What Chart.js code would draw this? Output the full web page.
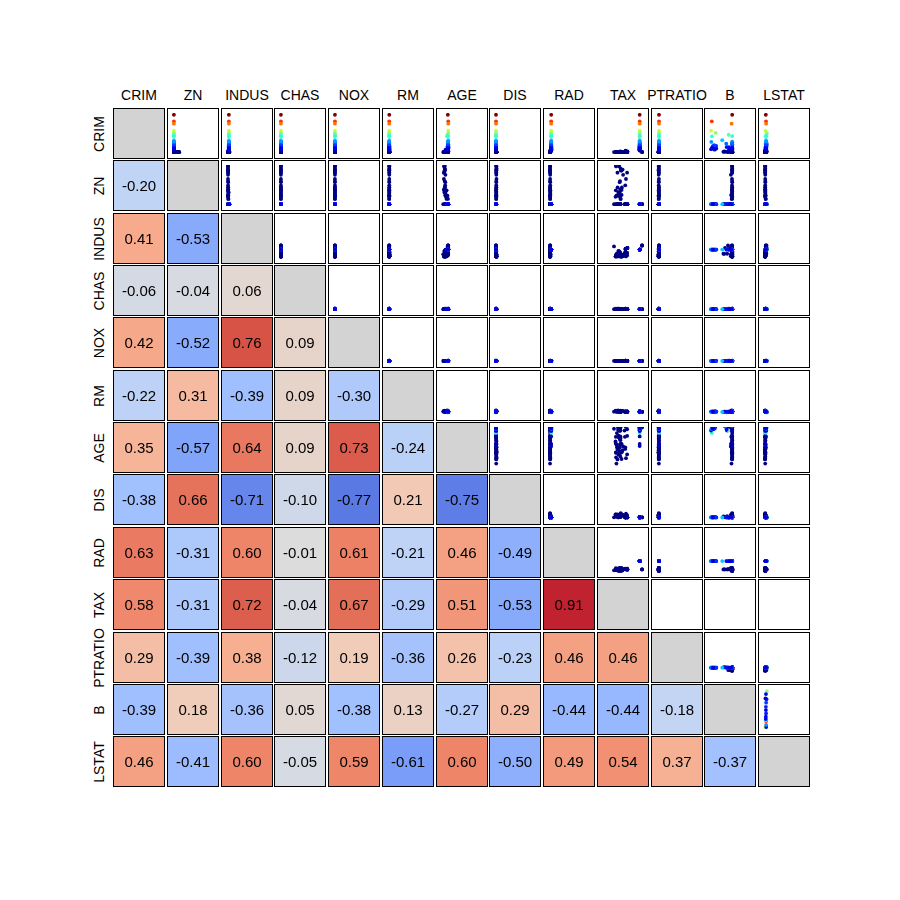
<!DOCTYPE html>
<html>
<head>
<meta charset="utf-8">
<script src="https://cdn.jsdelivr.net/npm/chart.js@4.4.0/dist/chart.umd.min.js"></script>
<style>
  body { margin: 0; background: #fff; font-family: Arial, "Liberation Sans", sans-serif; }
  #wrap { position: relative; width: 900px; height: 900px; }
  .cell { position: absolute; width: 52px; height: 51px; border: 1px solid #000; box-sizing: border-box; background: #fff; }
  .cell canvas { display: block; }
  .lab { position: absolute; font-size: 14px; color: #000; white-space: nowrap; transform: translate(-50%, -50%); }
  .rlab { transform: translate(-50%, -50%) rotate(-90deg); }
</style>
</head>
<body>
<div id="wrap"></div>
<script>
const names = ["CRIM", "ZN", "INDUS", "CHAS", "NOX", "RM", "AGE", "DIS", "RAD", "TAX", "PTRATIO", "B", "LSTAT"];

// lower triangle of the correlation matrix, row by row
const corrRows = [
  [],
  [-0.20],
  [0.41, -0.53],
  [-0.06, -0.04, 0.06],
  [0.42, -0.52, 0.76, 0.09],
  [-0.22, 0.31, -0.39, 0.09, -0.30],
  [0.35, -0.57, 0.64, 0.09, 0.73, -0.24],
  [-0.38, 0.66, -0.71, -0.10, -0.77, 0.21, -0.75],
  [0.63, -0.31, 0.60, -0.01, 0.61, -0.21, 0.46, -0.49],
  [0.58, -0.31, 0.72, -0.04, 0.67, -0.29, 0.51, -0.53, 0.91],
  [0.29, -0.39, 0.38, -0.12, 0.19, -0.36, 0.26, -0.23, 0.46, 0.46],
  [-0.39, 0.18, -0.36, 0.05, -0.38, 0.13, -0.27, 0.29, -0.44, -0.44, -0.18],
  [0.46, -0.41, 0.60, -0.05, 0.59, -0.61, 0.60, -0.50, 0.49, 0.54, 0.37, -0.37]
];

// sampled records shown in the upper-triangle scatters (suburbs / inner areas / RAD 24 district)
const crim = [0.01,0.06,0.10,0.02,0.04,0.03,0.01,0.02,0.05,0.01,0.02,0.04,0.08,0.03,0.04,0.01,0.15,0.09,0.12,0.03,0.08,0.05,0.07,0.03,0.02,0.10,0.04,0.05,0.02,0.06,0.03,0.07,
  0.03,0.03,0.63,1.23,0.85,1.61,0.09,0.17,0.33,0.54,0.23,0.09,0.11,0.07,0.05,0.14,0.25,1.63,0.54,2.73,3.32,1.13,1.41,0.18,0.30,0.23,0.29,0.06,0.05,0.11,0.13,0.26,0.36,0.08,0.15,0.63,0.97,
  88.98,73.53,67.92,51.14,45.75,41.53,38.35,37.66,28.66,25.05,22.05,20.08,18.81,15.87,14.33,13.52,12.05,11.11,10.06,9.39,8.72,7.67,6.65,5.82,4.87,3.69,9.91,4.42,7.05,15.02,5.69,4.26,23.65,19.61,11.95,14.05,9.72,8.05,
  24.39,16.81,9.92,7.99];
const zn = [18,12.5,12.5,75,21,90,82.5,80,95,100,85,60,45,55,70,52.5,40,30,35,25,20,28,33,22,80,34,17.5,90,40,75,95,20,
  0,0,0,0,0,0,0,0,0,0,0,0,0,0,0,0,0,0,0,0,0,0,0,0,0,0,0,0,0,0,0,0,0,0,0,0,0,
  0,0,0,0,0,0,0,0,0,0,0,0,0,0,0,0,0,0,0,0,0,0,0,0,0,0,0,0,0,0,0,0,0,0,0,0,0,0,
  0,0,0,0];
const indus = [2.31,7.87,7.87,2.95,5.64,1.22,2.03,1.52,2.68,1.32,0.74,1.69,3.44,2.25,2.24,5.32,6.41,4.93,6.06,5.13,6.96,15.04,2.18,5.86,3.64,6.09,1.38,2.97,1.25,4.0,2.68,3.97,
  7.07,2.18,8.14,8.14,8.14,8.14,10.01,10.01,6.2,6.2,9.9,12.83,13.89,4.05,3.41,6.91,21.89,21.89,21.89,19.58,19.58,19.58,19.58,27.74,27.74,27.74,10.59,11.93,11.93,25.65,9.69,9.9,3.97,13.92,8.56,8.14,21.89,
  18.1,18.1,18.1,18.1,18.1,18.1,18.1,18.1,18.1,18.1,18.1,18.1,18.1,18.1,18.1,18.1,18.1,18.1,18.1,18.1,18.1,18.1,18.1,18.1,18.1,18.1,18.1,18.1,18.1,18.1,18.1,18.1,18.1,18.1,18.1,18.1,18.1,18.1,
  18.1,18.1,18.1,18.1];
const chas = [0,0,0,0,0,0,0,0,0,0,0,0,0,0,0,0,1,0,0,0,0,0,1,0,0,0,0,0,0,0,0,0,
  0,0,0,0,0,0,0,0,0,0,0,0,1,0,0,0,0,0,0,0,1,1,1,0,0,0,1,0,0,0,0,0,0,0,0,0,0,
  0,0,0,0,0,0,0,0,0,0,0,0,0,0,0,0,0,0,0,0,0,0,0,0,0,0,0,0,0,0,0,0,0,0,0,0,0,0,
  0,0,0,0];
const nox = [0.54,0.52,0.52,0.43,0.44,0.40,0.42,0.40,0.42,0.41,0.41,0.41,0.44,0.39,0.40,0.41,0.45,0.43,0.44,0.45,0.46,0.46,0.47,0.43,0.39,0.43,0.42,0.40,0.43,0.41,0.42,0.65,
  0.47,0.46,0.54,0.54,0.54,0.54,0.55,0.55,0.51,0.50,0.54,0.44,0.55,0.51,0.49,0.45,0.62,0.62,0.62,0.87,0.87,0.87,0.87,0.61,0.61,0.61,0.49,0.57,0.57,0.58,0.59,0.54,0.65,0.44,0.52,0.54,0.62,
  0.671,0.679,0.693,0.597,0.693,0.693,0.693,0.679,0.597,0.693,0.740,0.700,0.597,0.679,0.614,0.631,0.614,0.770,0.584,0.740,0.713,0.693,0.713,0.713,0.614,0.584,0.655,0.584,0.614,0.614,0.58,0.58,0.671,0.671,0.659,0.597,0.740,0.700,
  0.693,0.700,0.740,0.700];
const rm = [6.58,6.01,5.89,7.02,6.0,7.25,7.61,7.29,7.85,6.82,6.38,6.58,6.78,6.45,6.87,6.31,6.76,6.49,5.97,6.46,5.86,6.21,7.24,6.46,6.11,7.0,7.1,7.09,6.94,6.6,8.03,8.7,
  6.42,7.15,5.95,6.14,5.6,6.1,5.91,6.4,8.25,7.47,6.1,6.14,5.95,6.42,6.42,6.17,5.86,5.02,6.15,5.6,5.4,6.13,6.0,5.45,5.09,5.98,5.96,6.59,6.98,5.99,5.79,5.87,6.4,6.7,6.1,5.4,5.76,
  6.97,5.96,5.68,5.76,4.52,5.53,5.45,6.20,5.16,5.99,5.82,4.37,4.63,6.55,6.23,5.49,5.65,5.63,6.83,6.11,6.12,5.75,6.31,6.51,6.48,5.89,5.85,6.00,6.10,5.30,6.11,6.40,6.38,7.31,5.61,6.66,6.41,5.70,
  4.97,5.28,6.02,5.52];
const age = [65,67,94,16,45,21,38,34,33,41,35,19,41,32,47,45,40,52,23,46,51,28,70,53,32,17,59,33,34,28,32,86,
  79,54,62,92,85,96,88,72,70,53,71,45,93,84,73,6,98,100,97,94,100,100,97,92,98,98,42,69,91,89,70,90,91,31,85,100,98,
  92,100,100,100,100,85,100,79,100,100,95,91,100,100,88,100,87,100,94,100,99,85,84,90,93,71,97,94,85,98,48,53,96,98,100,100,98,99,
  89,91,90,92];
const dis = [4.09,5.56,6.0,5.4,6.8,8.7,6.3,7.3,5.1,8.9,12.1,10.7,6.5,7.3,7.8,7.3,4.7,6.3,6.6,7.8,4.4,5.4,3.4,8.0,9.2,5.5,9.2,7.3,8.8,7.3,5.1,1.8,
  4.97,6.06,4.7,3.98,4.45,3.79,2.63,2.73,3.2,3.2,3.3,4.27,2.89,2.64,3.1,5.7,1.67,1.44,1.98,1.53,1.32,1.42,1.46,1.82,1.8,1.85,3.95,2.48,2.17,1.95,2.4,3.0,2.3,5.6,2.7,4.0,1.96,
  1.42,1.80,1.43,1.41,1.66,1.61,1.49,1.86,1.52,1.59,1.66,1.44,1.47,1.55,1.95,1.58,2.00,1.67,2.09,1.72,1.80,2.30,2.50,2.40,2.30,2.50,2.10,2.03,2.00,1.60,2.8,3.1,1.41,1.43,1.36,1.39,1.96,1.82,
  1.62,1.92,2.06,1.89];
const rad = [1,5,5,3,4,5,2,2,4,5,2,4,5,1,5,6,4,6,1,8,3,4,7,7,1,7,3,1,1,3,4,5,
  2,3,4,4,4,4,6,6,8,8,4,5,5,5,2,3,4,4,4,5,5,5,5,4,4,4,4,1,1,2,6,4,5,4,5,4,4,
  24,24,24,24,24,24,24,24,24,24,24,24,24,24,24,24,24,24,24,24,24,24,24,24,24,24,24,24,24,24,24,24,24,24,24,24,24,24,
  24,24,24,24];
const tax = [296,311,311,252,243,226,348,329,224,256,313,411,398,300,358,293,254,300,304,284,233,270,222,330,315,329,216,285,335,432,224,264,
  242,222,307,307,307,307,432,432,307,307,304,398,276,296,270,233,437,437,437,403,403,403,403,711,711,711,277,273,273,188,391,304,264,289,384,307,437,
  666,666,666,666,666,666,666,666,666,666,666,666,666,666,666,666,666,666,666,666,666,666,666,666,666,666,666,666,666,666,666,666,666,666,666,666,666,666,
  666,666,666,666];
const ptratio = [15.3,15.2,15.2,18.3,16.8,17.9,14.7,12.6,14.7,15.1,17.3,18.3,15.2,15.3,14.8,16.6,17.6,16.6,16.9,19.7,17.9,18.2,18.4,19.1,16.4,16.1,18.6,15.3,19.7,18.5,14.7,13.0,
  17.8,18.7,21.0,21.0,21.0,21.0,17.8,17.8,17.4,17.4,18.4,18.7,16.4,16.6,17.8,17.9,21.2,21.2,21.2,14.7,14.7,14.7,14.7,20.1,20.1,20.1,18.6,21.0,21.0,19.1,19.2,18.4,13.0,16.0,20.9,21.0,21.2,
  20.2,20.2,20.2,20.2,20.2,20.2,20.2,20.2,20.2,20.2,20.2,20.2,20.2,20.2,20.2,20.2,20.2,20.2,20.2,20.2,20.2,20.2,20.2,20.2,20.2,20.2,20.2,20.2,20.2,20.2,20.2,20.2,20.2,20.2,20.2,20.2,20.2,20.2,
  20.2,20.2,20.2,20.2];
const b = [396.9,395.6,386.7,395.1,393.9,395.9,393.7,396.9,390.6,394.2,396.9,392.3,393.2,394.7,371.6,396.9,396.9,396.9,394.9,395.6,392.2,393.4,393.7,377.1,393.2,390.9,393.7,394.7,395.0,396.9,396.9,386.9,
  396.9,396.9,396.9,396.9,303.4,248.3,394.7,391.0,378.9,376.8,396.9,386.4,396.9,395.5,393.7,383.4,396.9,396.9,396.9,396.9,396.9,321.0,343.3,395.1,318.4,390.1,396.9,391.9,396.9,377.7,396.9,390.7,391.2,396.9,394.0,232.6,262.8,
  396.9,16.5,385.0,2.6,88.3,329.5,396.9,18.8,210.9,396.9,391.5,285.8,396.9,396.9,50.9,68.9,291.6,396.9,81.3,396.9,100.2,394.0,396.9,70.8,396.2,391.4,21.6,331.3,2.5,97.9,396.9,390.0,396.9,396.9,332.1,35.1,385.9,352.6,
  7.7,60.7,27.3,43.1];
const lstat = [4.98,12.4,17.1,1.98,9.4,3.2,3.1,4.1,3.6,5.0,5.8,5.5,5.7,8.2,6.1,7.6,5.1,7.2,8.0,9.5,13.0,7.0,6.0,8.1,6.6,4.9,5.3,7.8,5.9,6.5,2.9,5.1,
  9.1,5.3,8.3,18.7,16.5,20.3,16.2,10.2,3.5,3.2,12.0,10.3,17.9,9.0,8.2,5.8,18.5,34.4,18.8,27.3,26.8,12.1,12.4,18.1,29.7,18.1,13.6,9.7,5.6,14.8,14.1,14.2,10.0,6.3,13.0,27.7,17.3,
  17.2,20.6,23.0,10.1,37.0,27.4,30.6,14.5,20.1,26.8,22.1,30.6,34.4,21.1,18.1,30.6,20.0,17.0,19.7,23.6,16.4,20.5,8.5,10.3,18.7,8.2,16.1,15.9,24.0,24.9,12.0,9.5,23.7,13.4,12.1,21.2,19.5,17.6,
  23.3,22.7,17.4,19.0];

const columns = [crim, zn, indus, chas, nox, rm, age, dis, rad, tax, ptratio, b, lstat];

// coolwarm, sampled every 0.1
const coolwarm = [[59,76,192],[85,114,223],[123,159,249],[158,190,255],[192,212,245],[221,220,220],
  [242,203,183],[247,172,142],[238,132,104],[208,71,61],[180,4,38]];

function cwColor(v) {
  const t = Math.max(0, Math.min(1, (v + 1) / 2)) * 10;
  const i = Math.min(9, Math.floor(t)), f = t - i;
  const c = coolwarm[i].map((a, k) => Math.round(a + (coolwarm[i + 1][k] - a) * f));
  return `rgb(${c[0]},${c[1]},${c[2]})`;
}

function jetColor(t) {
  const cl = (x) => Math.max(0, Math.min(1, x));
  const r = cl(1.5 - Math.abs(4 * t - 3)), g = cl(1.5 - Math.abs(4 * t - 2)), bl = cl(1.5 - Math.abs(4 * t - 1));
  return `rgb(${Math.round(r * 255)},${Math.round(g * 255)},${Math.round(bl * 255)})`;
}

const crimMax = Math.max(...crim);
const pointColors = crim.map((v) => jetColor(v / crimMax));

const wrap = document.getElementById("wrap");
const cellX = (j) => Math.round(113 + j * 53.75);
const cellY = (i) => Math.round(108 + i * 52.35);

names.forEach((nm, k) => {
  const top = document.createElement("div");
  top.className = "lab";
  top.textContent = nm;
  top.style.left = (cellX(k) + 26) + "px";
  top.style.top = "95px";
  wrap.appendChild(top);

  const side = document.createElement("div");
  side.className = "lab rlab";
  side.textContent = nm;
  side.style.left = "99px";
  side.style.top = (cellY(k) + 25.5) + "px";
  wrap.appendChild(side);
});

const hidden = { display: false };

for (let i = 0; i < names.length; i++) {
  for (let j = 0; j < names.length; j++) {
    const box = document.createElement("div");
    box.className = "cell";
    box.style.left = cellX(j) + "px";
    box.style.top = cellY(i) + "px";
    const cv = document.createElement("canvas");
    cv.width = 50;
    cv.height = 49;
    box.appendChild(cv);
    wrap.appendChild(box);

    if (j <= i) {
      const val = j < i ? corrRows[i][j] : null;
      new Chart(cv.getContext("2d"), {
        type: "bar",
        data: {
          labels: [""],
          datasets: [{
            data: [1],
            backgroundColor: val === null ? "#d3d3d3" : cwColor(val),
            borderWidth: 0,
            barPercentage: 1,
            categoryPercentage: 1
          }]
        },
        options: {
          responsive: false,
          animation: false,
          events: [],
          layout: { padding: 0 },
          plugins: { legend: hidden, tooltip: { enabled: false } },
          scales: { x: hidden, y: { display: false, min: 0, max: 1 } }
        },
        plugins: [{
          id: "cellValue",
          afterDatasetsDraw(chart) {
            if (val === null) return;
            const { ctx, chartArea } = chart;
            ctx.save();
            ctx.fillStyle = "#000";
            ctx.font = "15px Arial, 'Liberation Sans', sans-serif";
            ctx.textAlign = "center";
            ctx.textBaseline = "middle";
            ctx.fillText(val.toFixed(2), (chartArea.left + chartArea.right) / 2, (chartArea.top + chartArea.bottom) / 2 + 1);
            ctx.restore();
          }
        }]
      });
    } else {
      const xs = columns[j], ys = columns[i];
      new Chart(cv.getContext("2d"), {
        type: "scatter",
        data: {
          datasets: [{
            data: xs.map((x, k) => ({ x: x, y: ys[k] })),
            pointBackgroundColor: pointColors,
            pointBorderWidth: 0,
            pointRadius: 1.9,
            clip: 0
          }]
        },
        options: {
          responsive: false,
          animation: false,
          events: [],
          layout: { padding: 0 },
          plugins: { legend: hidden, tooltip: { enabled: false } },
          scales: {
            x: { display: false, min: -35.55, max: 746.55 },
            y: { display: false, min: -4.45, max: 93.42 }
          }
        }
      });
    }
  }
}
</script>
</body>
</html>
